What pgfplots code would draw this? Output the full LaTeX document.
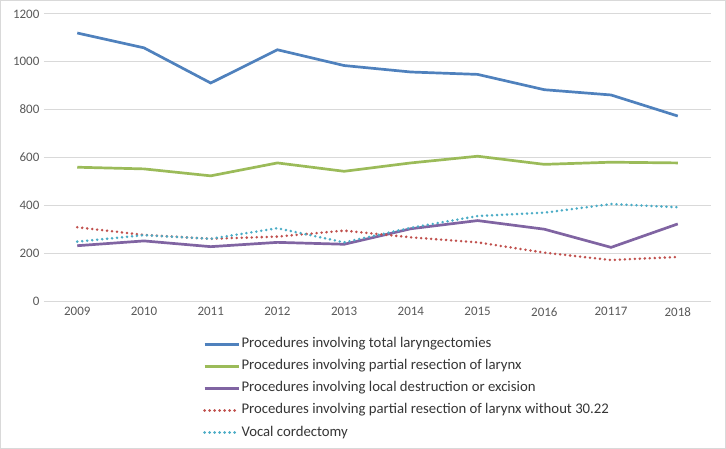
\documentclass[border=0pt]{standalone}
\usepackage{pgfplots}
\pgfplotsset{compat=1.18}
\usepackage{fontspec}
\setmainfont{Carlito}
\definecolor{cblue}{HTML}{4F81BD}
\definecolor{cgreen}{HTML}{9BBB59}
\definecolor{cpurple}{HTML}{8064A2}
\definecolor{cred}{HTML}{C0504D}
\definecolor{ccyan}{HTML}{4BACC6}
\definecolor{cgrid}{HTML}{D9D9D9}
\definecolor{ctext}{HTML}{595959}
\begin{document}
\begin{tikzpicture}[x=1bp,y=1bp]
\draw[draw=cgrid, line width=0.75bp] (0.5,0.5) rectangle (725.5,448.5);
\begin{axis}[
  at={(44bp,148bp)}, anchor=south west,
  scale only axis, width=667bp, height=287bp,
  xmin=-0.5, xmax=9.5, ymin=0, ymax=1200,
  xtick={0,1,2,3,4,5,6,7,8,9},
  xticklabels={2009,2010,2011,2012,2013,2014,2015,2016,20117,2018},
  ytick={0,200,400,600,800,1000,1200},
  ymajorgrids, grid style={draw=cgrid, line width=0.75bp},
  axis line style={draw=none},
  major tick length=0pt,
  tick label style={font=\fontsize{13}{15}\selectfont, text=ctext},
  /pgf/number format/assume math mode=true,
  /pgf/number format/1000 sep={},
  yticklabel style={xshift=-1bp},
  xticklabel style={yshift=-3bp},
  legend style={at={(0.234,-0.116)}, anchor=north west, draw=none, fill=none,
    text=ctext!60!black,
    nodes={font=\fontsize{14.8}{16}\selectfont, inner sep=1.5bp, text height=10bp, text depth=3bp}, row sep=6bp},
  legend cell align=left,
  legend image code/.code={\draw[#1] (0bp,0bp) -- (34bp,0bp);},
]
\addplot[cblue, line width=2.7bp] coordinates {(0,1120) (1,1058) (2,911) (3,1050) (4,984) (5,957) (6,947) (7,883) (8,861) (9,773)};
\addlegendentry{Procedures involving total laryngectomies}
\addplot[cgreen, line width=2.7bp] coordinates {(0,559) (1,552) (2,523) (3,577) (4,542) (5,577) (6,605) (7,571) (8,580) (9,577)};
\addlegendentry{Procedures involving partial resection of larynx}
\addplot[cpurple, line width=2.7bp] coordinates {(0,231) (1,251) (2,227) (3,245) (4,237) (5,302) (6,336) (7,300) (8,224) (9,322)};
\addlegendentry{Procedures involving local destruction or excision}
\addplot[cred, line width=2.8bp, line cap=round, dash pattern=on 0bp off 5bp] coordinates {(0,308) (1,276) (2,260) (3,269) (4,294) (5,266) (6,245) (7,202) (8,171) (9,184)};
\addlegendentry{Procedures involving partial resection of larynx without 30.22}
\addplot[ccyan, line width=2.8bp, line cap=round, dash pattern=on 0bp off 5bp] coordinates {(0,248) (1,275) (2,260) (3,304) (4,245) (5,306) (6,355) (7,369) (8,405) (9,392)};
\addlegendentry{Vocal cordectomy}
\end{axis}
\end{tikzpicture}
\end{document}
